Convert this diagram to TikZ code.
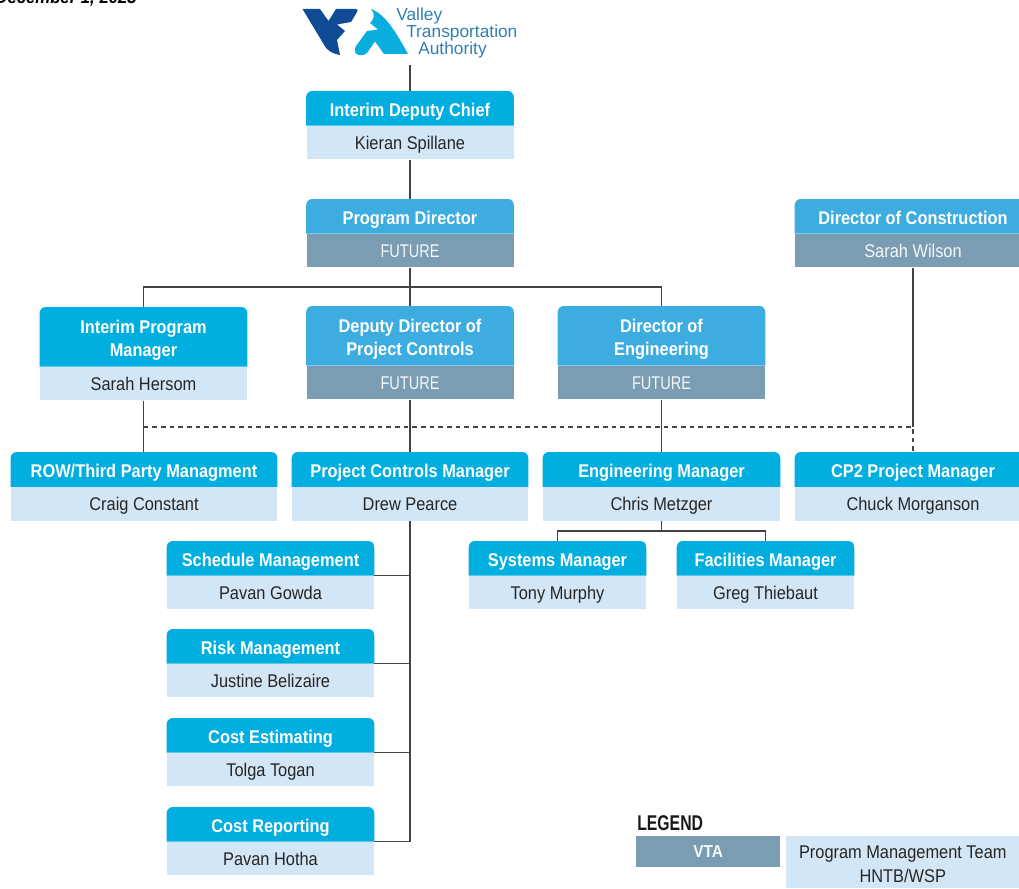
\documentclass[tikz,border=0pt]{standalone}
\usepackage{fontspec}
\setmainfont{Liberation Sans}[FakeStretch=0.89]
\usetikzlibrary{positioning}
\definecolor{vtacyan}{HTML}{00AEDF}
\definecolor{vtasky}{HTML}{3DACE0}
\definecolor{vtapale}{HTML}{D3E6F5}
\definecolor{vtaslate}{HTML}{7B9DB4}
\definecolor{vtanavy}{HTML}{0F4C95}
\definecolor{vtalogo}{HTML}{2F7FB2}
\definecolor{vtaline}{HTML}{444444}
\newcommand{\futureword}{\addfontfeatures{FakeStretch=0.79}FUTURE}
\tikzset{
    titlespace/.style={inner sep=0pt, anchor=north},
    titlebox/.style={inner sep=0pt, align=center, text=white, font=\fontsize{13.8}{17.6}\selectfont\bfseries},
    personbox/.style={fill=vtapale, minimum height=33.5*0.75pt, inner sep=0pt, text height=12pt, text depth=1.6pt, text=black!85, font=\fontsize{13.8}{15}\selectfont},
    futurebox/.style={personbox, fill=vtaslate, text=white!92!vtaslate},
    logotext/.style={anchor=west, inner sep=0pt, text=vtalogo, font=\fontsize{13}{15}\selectfont\addfontfeatures{FakeStretch=1.0}},
    link/.style={draw=vtaline, line width=1.1pt},
    dashlink/.style={link, dashed, dash pattern=on 3.5pt off 3pt}
}

% id, x, top, width, title height, title, person, title colour, style of lower part
\newcommand{\orgbox}[9]{
    \node[titlespace, minimum width=#4*0.75pt, minimum height=#5*0.75pt] (#1) at (#2, #3) {};
    \fill[#8, rounded corners=4.5pt] (#1.south west) |- (#1.north) -| (#1.south east);
    \node[titlebox] (#1title) at ([yshift=-2.8pt]#1.center) {#6};
    \node[#9, minimum width=#4*0.75pt, below=0pt of #1] (#1name) {#7};
}

\begin{document}
\begin{tikzpicture}[x=0.75pt, y=-0.75pt]

    \useasboundingbox (0, 0) rectangle (1019, 888);

    \node[anchor=base east, inner sep=0pt, font=\fontsize{13.2}{15}\selectfont\bfseries\itshape\addfontfeatures{FakeStretch=0.95}] (issuedate) at (137, 3.5) {December 1, 2023};

    % logo
    \fill[vtanavy] (302.5, 9) -- (320, 9) -- (328.5, 21) -- (336, 9) -- (356, 9)
        .. controls (358, 9) and (358, 11) .. (357, 12) -- (351, 22) -- (337, 24.5) -- (345, 31) -- (337, 40) -- (340, 55)
        .. controls (334, 54) and (330, 52) .. (326, 48) -- cycle;
    \fill[vtacyan!85!vtasky] (371, 9) .. controls (385, 14) and (396, 32) .. (408, 54) -- (384, 54) -- (375, 41.5) -- (367, 53)
        .. controls (364, 56) and (358, 56) .. (355.5, 53) .. controls (354, 50) and (355, 48) .. (356, 46) -- (367, 31) -- (378, 29.5) -- (370, 23) .. controls (375, 18) and (375, 14) .. (371, 9);
    \node[logotext] (logovalley) at (396, 16) {Valley};
    \node[logotext] (logotransit) at (406, 33) {Transportation};
    \node[logotext] (logoauthority) at (418, 50) {Authority};
    \coordinate (logofoot) at (410, 65);

    % boxes
    \orgbox{chief}{410}{91}{207}{34}{Interim Deputy Chief}{Kieran Spillane}{vtacyan}{personbox}
    \orgbox{director}{410}{199}{207}{34}{Program Director}{\futureword}{vtasky}{futurebox}
    \orgbox{construction}{913}{199}{236}{34}{Director of Construction\vphantom{g}}{Sarah Wilson}{vtasky}{futurebox}

    \orgbox{program}{143.5}{307}{207}{59}{Interim Program\\Manager}{Sarah Hersom}{vtacyan}{personbox}
    \orgbox{deputy}{410}{306}{207}{59}{Deputy Director of\\Project Controls}{\futureword}{vtasky}{futurebox}
    \orgbox{engineering}{661.5}{306}{207}{59}{Director of\\Engineering}{\futureword}{vtasky}{futurebox}

    \orgbox{row}{144}{452}{266}{34.5}{ROW/Third Party Managment}{Craig Constant}{vtacyan}{personbox}
    \orgbox{controls}{410}{452}{236}{34.5}{Project Controls Manager}{Drew Pearce}{vtacyan}{personbox}
    \orgbox{engmanager}{661.5}{452}{237}{34.5}{Engineering Manager}{Chris Metzger}{vtacyan}{personbox}
    \orgbox{cptwo}{913}{452}{236}{34.5}{CP2 Project Manager}{Chuck Morganson}{vtacyan}{personbox}

    \orgbox{systems}{557.5}{541}{177}{34}{Systems Manager}{Tony Murphy}{vtacyan}{personbox}
    \orgbox{facilities}{765.5}{541}{177}{34}{Facilities Manager}{Greg Thiebaut}{vtacyan}{personbox}

    \orgbox{schedule}{270.5}{541}{207}{34}{Schedule Management}{Pavan Gowda}{vtacyan}{personbox}
    \orgbox{risk}{270.5}{629}{207}{34}{Risk Management}{Justine Belizaire}{vtacyan}{personbox}
    \orgbox{estimating}{270.5}{718}{207}{34}{Cost Estimating}{Tolga Togan}{vtacyan}{personbox}
    \orgbox{reporting}{270.5}{807}{207}{34}{Cost Reporting}{Pavan Hotha}{vtacyan}{personbox}

    % connectors
    \draw[link] (logofoot) -- (chief);
    \draw[link] (chiefname) -- (director);
    \draw[link] (directorname) -- (deputy);
    \coordinate (directorbar) at (410, 287);
    \draw[link] (program.north) |- (directorbar) -| (engineering.north);

    \draw[link] (programname.south) -- (programname.south |- row.north);
    \draw[link] (deputyname) -- (controls);
    \draw[link] (engineeringname) -- (engmanager);

    \coordinate (dashleft) at (143.5, 427);
    \coordinate (dashright) at (913, 427);
    \draw[link] (constructionname) -- (dashright);
    \draw[dashlink] (dashleft) -- (dashright) -- (cptwo.north);

    \coordinate (engbar) at (661.5, 531);
    \draw[link] (engmanagername) -- (engbar);
    \draw[link] (systems.north) |- (engbar) -| (facilities.north);

    \draw[link] (controlsname.south) |- (reporting.south east);
    \draw[link] (schedule.south east) -- (schedule.south east -| controlsname.south);
    \draw[link] (risk.south east) -- (risk.south east -| controlsname.south);
    \draw[link] (estimating.south east) -- (estimating.south east -| controlsname.south);

    % legend
    \node[anchor=base west, inner sep=0pt, text=black!90, font=\fontsize{16}{18}\selectfont\bfseries\addfontfeatures{FakeStretch=0.74}] (legendhead) at (637, 830) {LEGEND};
    \node[fill=vtaslate, text=white!92!vtaslate, minimum width=144*0.75pt, minimum height=31*0.75pt, inner sep=0pt, anchor=north west, font=\fontsize{13}{15}\selectfont\bfseries] (legendvta) at (636, 836) {VTA};
    \node[fill=vtapale, minimum width=233*0.75pt, minimum height=52*0.75pt, anchor=north west] (legendteam) at (786, 836) {};
    \node[text=black!85, inner sep=0pt, align=center, font=\fontsize{13.8}{18}\selectfont] (legendteamtext) at ([yshift=-1.2pt]legendteam.center) {Program Management Team\\HNTB/WSP};

\end{tikzpicture}
\end{document}
